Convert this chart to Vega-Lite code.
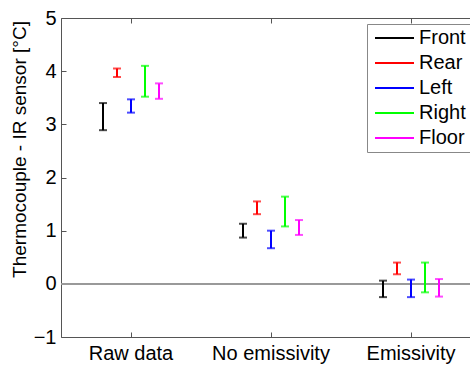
{
  "$schema": "https://vega.github.io/schema/vega-lite/v6.json",
  "width": 420,
  "height": 319,
  "autosize": {"type": "none"},
  "padding": {"left": 61, "top": 18, "right": 0, "bottom": 28},
  "config": {
    "font": "Liberation Sans",
    "view": {"stroke": "#555", "strokeWidth": 1},
    "axis": {
      "grid": false,
      "domain": false,
      "tickColor": "#555",
      "tickSize": -5,
      "labelColor": "#000",
      "titleColor": "#000",
      "labelFontSize": 20,
      "titleFontSize": 19,
      "titleFontWeight": "normal"
    }
  },
  "data": {
    "values": [
      {"cond": "Raw data", "sensor": "Front", "low": 2.89, "high": 3.40},
      {"cond": "Raw data", "sensor": "Rear", "low": 3.89, "high": 4.05},
      {"cond": "Raw data", "sensor": "Left", "low": 3.22, "high": 3.47},
      {"cond": "Raw data", "sensor": "Right", "low": 3.52, "high": 4.10},
      {"cond": "Raw data", "sensor": "Floor", "low": 3.48, "high": 3.77},
      {"cond": "No emissivity", "sensor": "Front", "low": 0.87, "high": 1.13},
      {"cond": "No emissivity", "sensor": "Rear", "low": 1.31, "high": 1.55},
      {"cond": "No emissivity", "sensor": "Left", "low": 0.67, "high": 1.00},
      {"cond": "No emissivity", "sensor": "Right", "low": 1.08, "high": 1.64},
      {"cond": "No emissivity", "sensor": "Floor", "low": 0.92, "high": 1.20},
      {"cond": "Emissivity", "sensor": "Front", "low": -0.25, "high": 0.06},
      {"cond": "Emissivity", "sensor": "Rear", "low": 0.18, "high": 0.40},
      {"cond": "Emissivity", "sensor": "Left", "low": -0.25, "high": 0.08},
      {"cond": "Emissivity", "sensor": "Right", "low": -0.16, "high": 0.40},
      {"cond": "Emissivity", "sensor": "Floor", "low": -0.24, "high": 0.09}
    ]
  },
  "layer": [
    {
      "mark": {"type": "rule", "color": "#999", "strokeWidth": 1.5},
      "encoding": {"y": {"datum": 0, "type": "quantitative"}}
    },
    {
      "mark": {"type": "rule", "strokeWidth": 2},
      "encoding": {
        "x": {
          "field": "cond", "type": "nominal",
          "sort": ["Raw data", "No emissivity", "Emissivity"],
          "scale": {"type": "band", "paddingInner": 0, "paddingOuter": 0},
          "axis": {"orient": "bottom", "title": null, "labelAngle": 0, "labelPadding": 11}
        },
        "xOffset": {
          "field": "sensor", "type": "nominal",
          "sort": ["Front", "Rear", "Left", "Right", "Floor"],
          "scale": {"type": "band", "range": [35, 105], "paddingInner": 0, "paddingOuter": 0}
        },
        "y": {
          "field": "low", "type": "quantitative",
          "scale": {"domain": [-1, 5], "nice": false, "zero": false},
          "axis": {"title": "Thermocouple - IR sensor [°C]", "values": [-1, 0, 1, 2, 3, 4, 5], "labelPadding": 10, "titlePadding": 4, "titleY": 131}
        },
        "y2": {"field": "high"},
        "color": {
          "field": "sensor", "type": "nominal",
          "sort": ["Front", "Rear", "Left", "Right", "Floor"],
          "scale": {"domain": ["Front", "Rear", "Left", "Right", "Floor"], "range": ["#000000", "#ff0000", "#0000ff", "#00ff00", "#ff00ff"]},
          "legend": {
            "orient": "none", "legendX": 306, "legendY": 6,
            "title": null, "symbolType": "M-4,0L3.8,0", "symbolSize": 100,
            "symbolStrokeWidth": 2, "symbolOffset": 14,
            "labelFontSize": 20, "labelOffset": 14,
            "rowPadding": 5, "fillColor": "white", "strokeColor": "#888", "padding": 4,
            "encode": {"symbols": {"update": {"size": {"value": 100}, "shape": {"value": "M-4,0L3.8,0"}, "strokeWidth": {"value": 2}}}}
          }
        }
      }
    },
    {
      "mark": {"type": "tick", "size": 8, "thickness": 2},
      "encoding": {
        "x": {
          "field": "cond", "type": "nominal",
          "sort": ["Raw data", "No emissivity", "Emissivity"],
          "scale": {"type": "band", "paddingInner": 0, "paddingOuter": 0},
          "axis": null
        },
        "xOffset": {
          "field": "sensor", "type": "nominal",
          "sort": ["Front", "Rear", "Left", "Right", "Floor"],
          "scale": {"type": "band", "range": [35, 105], "paddingInner": 0, "paddingOuter": 0}
        },
        "y": {"field": "low", "type": "quantitative"},
        "color": {"field": "sensor", "type": "nominal", "sort": ["Front", "Rear", "Left", "Right", "Floor"]}
      }
    },
    {
      "mark": {"type": "tick", "size": 8, "thickness": 2},
      "encoding": {
        "x": {
          "field": "cond", "type": "nominal",
          "sort": ["Raw data", "No emissivity", "Emissivity"],
          "scale": {"type": "band", "paddingInner": 0, "paddingOuter": 0},
          "axis": {"orient": "top", "labels": false, "title": null}
        },
        "xOffset": {
          "field": "sensor", "type": "nominal",
          "sort": ["Front", "Rear", "Left", "Right", "Floor"],
          "scale": {"type": "band", "range": [35, 105], "paddingInner": 0, "paddingOuter": 0}
        },
        "y": {"field": "high", "type": "quantitative"},
        "color": {"field": "sensor", "type": "nominal", "sort": ["Front", "Rear", "Left", "Right", "Floor"]}
      }
    }
  ],
  "resolve": {"axis": {"x": "independent"}}
}
